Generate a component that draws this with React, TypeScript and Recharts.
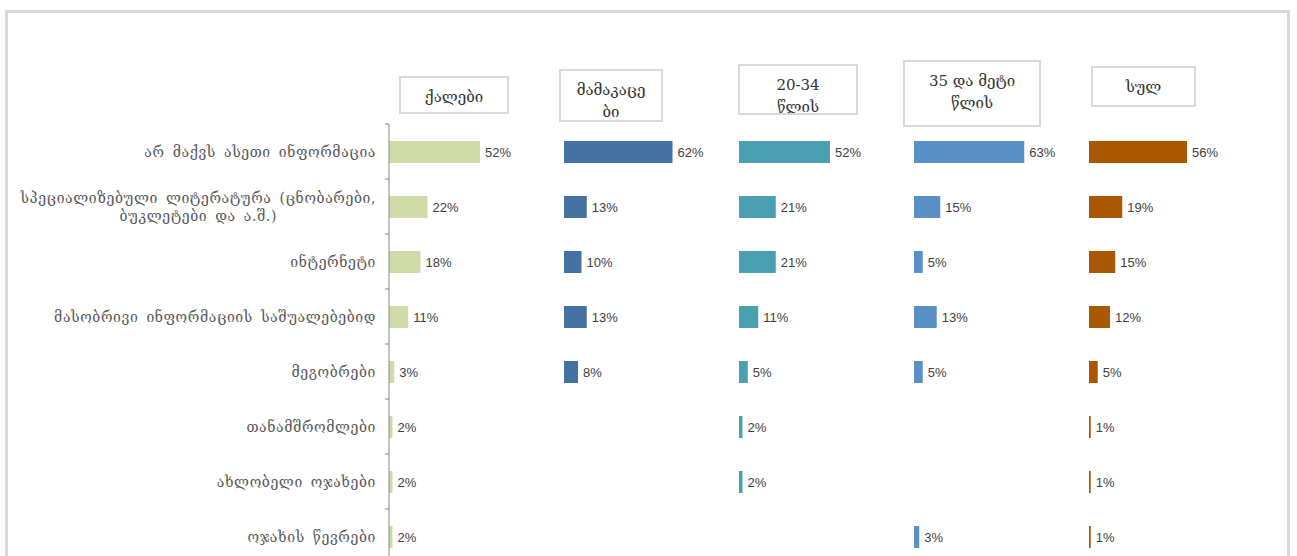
import React from 'react'
import { BarChart, Bar, XAxis, YAxis, LabelList } from 'recharts'

const categories = [
  'არ მაქვს ასეთი ინფორმაცია',
  'სპეციალიზებული ლიტერატურა (ცნობარები,\nბუკლეტები და ა.შ.)',
  'ინტერნეტი',
  'მასობრივი ინფორმაციის საშუალებებიდ',
  'მეგობრები',
  'თანამშრომლები',
  'ახლობელი ოჯახები',
  'ოჯახის წევრები',
]

const groups = ['ქალები', 'მამაკაცე\nბი', '20-34\nწლის', '35 და მეტი\nწლის', 'სულ']

const women = [52, 22, 18, 11, 3, 2, 2, 2]
const men = [62, 13, 10, 13, 8, null, null, null]
const age20to34 = [52, 21, 21, 11, 5, 2, 2, null]
const age35plus = [63, 15, 5, 13, 5, null, null, 3]
const total = [56, 19, 15, 12, 5, 1, 1, 1]

const series = [women, men, age20to34, age35plus, total]
const COLORS = ['#cfdba8', '#44719f', '#4a9fb1', '#5b90c6', '#a95700']

// header boxes (left, top, width, height)
const headerBoxes = [
  { left: 399, top: 76, width: 110, height: 38 },
  { left: 559, top: 69, width: 104, height: 53 },
  { left: 738, top: 64, width: 120, height: 51 },
  { left: 903, top: 60, width: 138, height: 67 },
  { left: 1091, top: 66, width: 105, height: 41 },
]

const GEO_FONT = '"DejaVu Serif", serif'
const NUM_FONT = '"Liberation Sans", Arial, sans-serif'

const CHART_H = 570
const MARGIN = { top: 124, right: 0, bottom: 6, left: 0 }
const AXIS_W = 389
const PANEL_W = 175

function CategoryTick(props: any) {
  const { x, y, payload } = props
  const half = payload.offset ?? 0
  return (
    <g>
      <line x1={x + 4} x2={x + 8} y1={y - half} y2={y - half} stroke="#888" />
      <foreignObject x={x - 385} y={y - 24} width={380} height={48}>
        <div
          style={{
            height: 48,
            display: 'flex',
            alignItems: 'center',
            justifyContent: 'flex-end',
          }}
        >
          <span
            style={{
              display: 'inline-block',
              textAlign: 'center',
              whiteSpace: 'pre-line',
              fontFamily: GEO_FONT,
              fontSize: 14,
              letterSpacing: 0.6,
              wordSpacing: 3,
              lineHeight: '18px',
              color: '#595959',
            }}
          >
            {payload.value}
          </span>
        </div>
      </foreignObject>
    </g>
  )
}

function Panel({ idx }: { idx: number }) {
  const first = idx === 0
  const data = categories.map((name, i) => ({ name, v: series[idx][i] }))
  const width = first ? AXIS_W + PANEL_W : PANEL_W
  const left = first ? 0 : AXIS_W + PANEL_W * idx
  return (
    <div style={{ position: 'absolute', left, top: 0 }}>
      <BarChart width={width} height={CHART_H} data={data} layout="vertical" margin={MARGIN}>
        <XAxis type="number" domain={[0, 100]} hide />
        <YAxis
          type="category"
          dataKey="name"
          width={first ? AXIS_W : 0}
          hide={!first}
          interval={0}
          tickLine={false}
          axisLine={{ stroke: '#888' }}
          tick={<CategoryTick />}
        />
        <Bar dataKey="v" fill={COLORS[idx]} barSize={22} isAnimationActive={false}>
          <LabelList
            dataKey="v"
            position="right"
            offset={5}
            formatter={(v: any) => (v == null ? '' : `${v}%`)}
            style={{ fill: '#404040', fontSize: 13, fontFamily: NUM_FONT }}
          />
        </Bar>
      </BarChart>
    </div>
  )
}

export default function App() {
  return (
    <div style={{ position: 'absolute', left: 0, top: 0, width: 1297, height: 556, overflow: 'hidden', background: '#fff' }}>
      <div
        style={{
          position: 'absolute',
          left: 5,
          top: 10,
          width: 1285,
          height: 620,
          border: '3px solid #d9d9d9',
          boxSizing: 'border-box',
        }}
      />
      {groups.map((_, i) => (
        <Panel key={i} idx={i} />
      ))}
      {groups.map((g, i) => (
        <div
          key={g}
          style={{
            position: 'absolute',
            ...headerBoxes[i],
            border: '2px solid #d9d9d9',
            boxSizing: 'border-box',
            overflow: 'hidden',
            background: '#fff',
            paddingTop: 8,
            textAlign: 'center',
            whiteSpace: 'pre-line',
            fontFamily: GEO_FONT,
            fontSize: 15,
            lineHeight: '22px',
            color: '#333',
          }}
        >
          {g}
        </div>
      ))}
    </div>
  )
}
